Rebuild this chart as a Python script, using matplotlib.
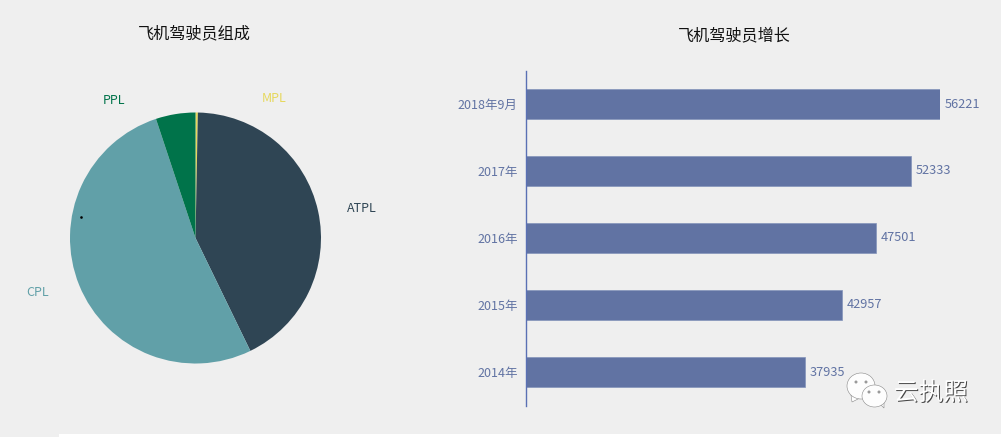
import matplotlib
matplotlib.use('Agg')
import matplotlib.pyplot as plt
from matplotlib.patches import Ellipse, Polygon, Rectangle
import matplotlib.patheffects as pe

plt.rcParams['font.family'] = ['Noto Sans CJK SC', 'DejaVu Sans']

W, H = 1001, 437
bg = '#efefef'

pie_names = ['MPL', 'ATPL', 'CPL', 'PPL']
pie_values = [0.3, 42.5, 52.1, 5.1]
pie_colors = ['#e6d85c', '#2f4554', '#61a0a8', '#00734a']

years = ['2014年', '2015年', '2016年', '2017年', '2018年9月']
pilots = [37935, 42957, 47501, 52333, 56221]
bar_color = '#6173a3'
axis_color = '#5a70b4'

def px(x, y):
    # пиксели картинки -> доли фигуры
    return x / W, 1 - y / H

def box(x0, y0, x1, y1):
    return [x0 / W, 1 - y1 / H, (x1 - x0) / W, (y1 - y0) / H]

fig = plt.figure(figsize=(W / 100, H / 100), dpi=100, facecolor=bg)

# белая полоска внизу
fig.patches.append(Rectangle((59 / W, 0), 1 - 59 / W, 3 / H, transform=fig.transFigure,
                             facecolor='white', edgecolor='none'))

# pie
ax1 = fig.add_axes(box(70, 112.5, 321, 363.5))
ax1.pie(pie_values, colors=pie_colors, startangle=90, counterclock=False, radius=1,
        wedgeprops=dict(edgecolor='none', linewidth=0))
ax1.set_xlim(-1, 1)
ax1.set_ylim(-1, 1)
ax1.plot([-0.915], [0.17], marker='s', ms=0.8, color='black', zorder=5)

label_pos = {'ATPL': (362, 209), 'CPL': (38, 292), 'PPL': (114, 100), 'MPL': (274, 98)}
for name, c in zip(pie_names, pie_colors):
    x, y = px(*label_pos[name])
    fig.text(x, y, name, color=c, fontsize=9, ha='center', va='center')

x, y = px(194, 34)
fig.text(x, y, '飞机驾驶员组成', color='#111111', fontsize=11.6, ha='center', va='center')
x, y = px(734, 36)
fig.text(x, y, '飞机驾驶员增长', color='#111111', fontsize=11.6, ha='center', va='center')

# bars
ax2 = fig.add_axes(box(526, 70.5, 939.7, 405.5))
ax2.set_facecolor('none')
ax2.barh(years, pilots, height=0.45, color=bar_color, edgecolor='#8494bb', linewidth=0.5)
ax2.set_xlim(0, max(pilots))
ax2.set_ylim(-0.5, 4.5)
for s in ['top', 'right', 'bottom']:
    ax2.spines[s].set_visible(False)
ax2.spines['left'].set_color(axis_color)
ax2.spines['left'].set_linewidth(1)
ax2.set_xticks([])
ax2.tick_params(axis='y', length=0, pad=6, labelsize=9, labelcolor=bar_color)
for i, v in enumerate(pilots):
    ax2.annotate(str(v), (v, i), xytext=(3.5, 0), textcoords='offset points',
                 color=bar_color, fontsize=9.2, va='center', annotation_clip=False)

# watermark
ov = fig.add_axes([0, 0, 1, 1])
ov.set_xlim(0, W)
ov.set_ylim(H, 0)
ov.axis('off')
ov.patch.set_alpha(0)
for cx, cy, w, h, tail in [(861, 386, 28, 26, [(851, 395), (852, 402), (860, 398)]),
                           (874.5, 396, 25, 22, [(880, 404), (884, 408), (884, 402)])]:
    ov.add_patch(Polygon(tail, facecolor='white', edgecolor='#888888', lw=0.4, zorder=6))
    ov.add_patch(Ellipse((cx, cy), w, h, facecolor='#fdfdfd', edgecolor='#888888', lw=0.4, zorder=6))
for ex, ey, r in [(856, 382, 1.5), (866, 382, 1.5), (869, 392, 1.5), (879, 392, 1.5)]:
    ov.add_patch(Ellipse((ex, ey), r * 2, r * 2, facecolor='#999999', edgecolor='none', zorder=7))
ov.text(931, 393, '云执照', color='white', fontsize=17.8, ha='center', va='center', zorder=7,
        path_effects=[pe.withSimplePatchShadow(offset=(0.7, -0.7), shadow_rgbFace='#333333', alpha=0.9)])

fig.savefig('out.png', dpi=100, facecolor=bg)
